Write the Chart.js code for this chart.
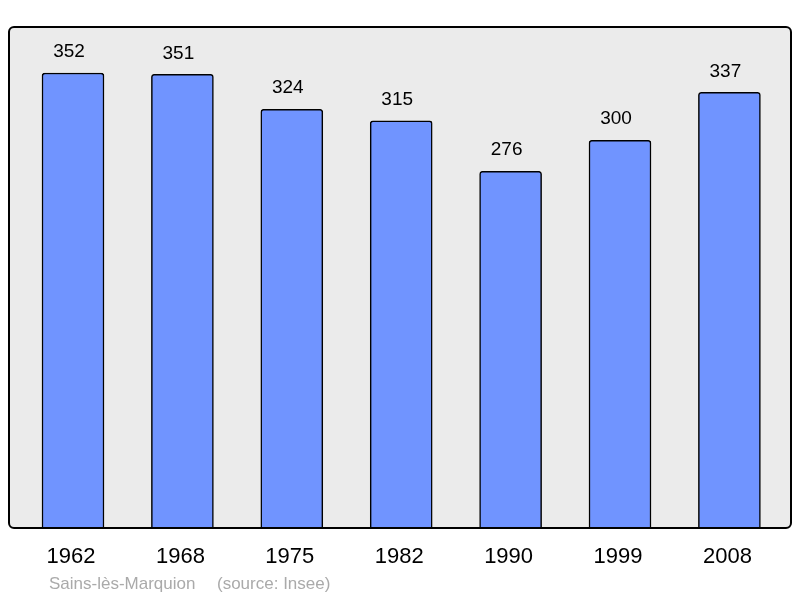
<!DOCTYPE html>
<html>
<head>
<meta charset="utf-8">
<script src="https://cdn.jsdelivr.net/npm/chart.js@4"></script>
<style>
  html, body { margin: 0; padding: 0; background: #fff; }
  #wrap { width: 800px; height: 598px; }
</style>
</head>
<body>
<div id="wrap"><canvas id="pop"></canvas></div>
<script>
const years = ["1962", "1968", "1975", "1982", "1990", "1999", "2008"];
const population = [352, 351, 324, 315, 276, 300, 337];
const commune = "Sains-lès-Marquion";
const source = "(source: Insee)";

const FONT = "'Liberation Sans', Arial, sans-serif";

// grey plot background + rounded black frame
const frame = {
  id: "frame",
  beforeDatasetsDraw(chart) {
    const { ctx, chartArea: a } = chart;
    ctx.save();
    ctx.fillStyle = "#ebebeb";
    ctx.beginPath();
    ctx.roundRect(a.left, a.top, a.right - a.left, a.bottom - a.top, 5);
    ctx.fill();
    ctx.restore();
  },
  afterDatasetsDraw(chart) {
    const { ctx, chartArea: a } = chart;
    ctx.save();
    ctx.strokeStyle = "#000";
    ctx.lineWidth = 2;
    ctx.beginPath();
    ctx.roundRect(a.left, a.top, a.right - a.left, a.bottom - a.top, 5);
    ctx.stroke();

    // values above the bars
    ctx.fillStyle = "#000";
    ctx.font = "19px " + FONT;
    ctx.textAlign = "center";
    ctx.textBaseline = "middle";
    chart.getDatasetMeta(0).data.forEach((bar, i) => {
      ctx.fillText(String(population[i]), bar.x - 4, bar.y - 21);
    });

    // footer
    ctx.fillStyle = "#aaaaaa";
    ctx.font = "17px " + FONT;
    ctx.textAlign = "left";
    ctx.fillText(commune, 49, 584);
    ctx.fillText(source, 217, 584);
    ctx.restore();
  },
};

new Chart(document.getElementById("pop"), {
  type: "bar",
  data: {
    datasets: [
      {
        data: population.map((v, i) => ({ x: i, y: v })),
        backgroundColor: "#7094ff",
        borderColor: "#000",
        borderWidth: 1.5,
        borderRadius: 3,
        borderSkipped: "bottom",
        barThickness: 62,
      },
    ],
  },
  options: {
    responsive: true,
    maintainAspectRatio: false,
    animation: false,
    layout: { padding: { top: 27, left: 9, right: 9, bottom: 0 } },
    plugins: {
      legend: { display: false },
      tooltip: { enabled: false },
    },
    scales: {
      x: {
        type: "linear",
        offset: false,
        min: -0.585,
        max: 6.563,
        grid: { display: false, drawTicks: false },
        border: { display: false },
        afterBuildTicks: (s) => {
          s.ticks = years.map((y, i) => ({ value: i }));
        },
        afterFit: (s) => {
          s.height = 70;
        },
        ticks: {
          autoSkip: false,
          maxRotation: 0,
          padding: 16,
          labelOffset: -2,
          color: "#000",
          font: { family: FONT, size: 22 },
          callback: (v) => years[v],
        },
      },
      y: {
        display: false,
        min: 0,
        max: 387.6,
      },
    },
  },
  plugins: [frame],
});
</script>
</body>
</html>
